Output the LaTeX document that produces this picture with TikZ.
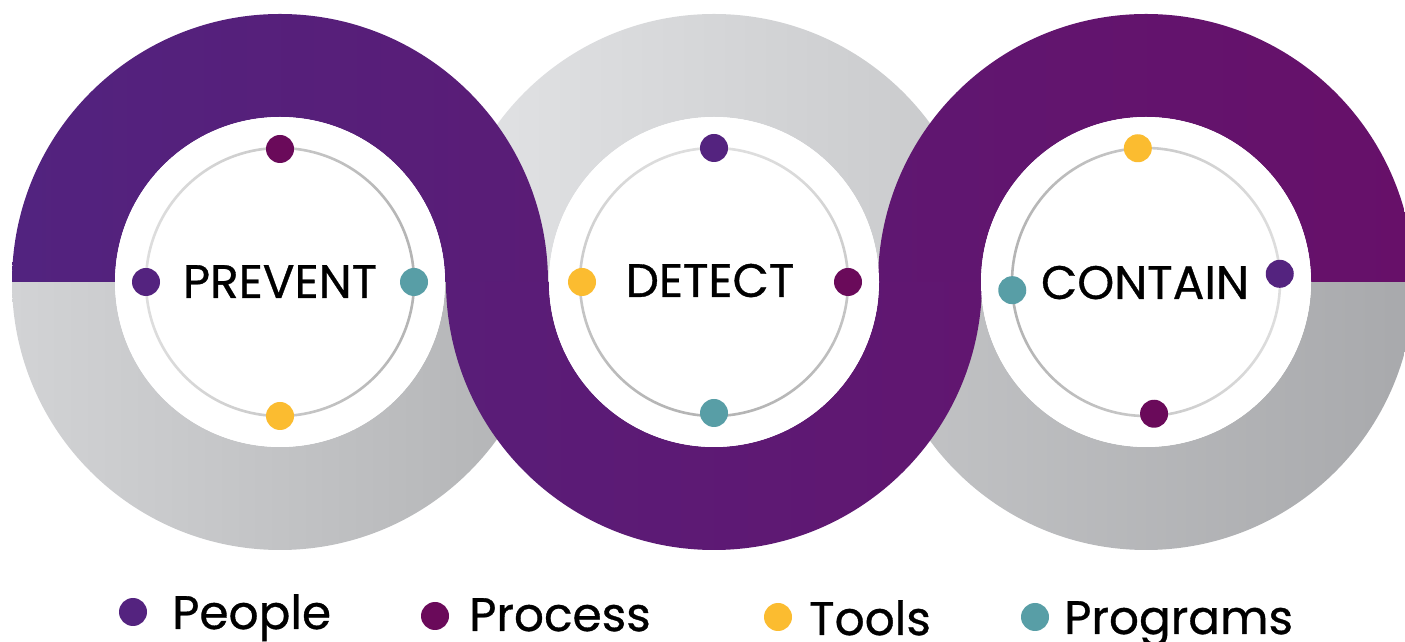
\documentclass[tikz,border=0pt]{standalone}
\usepackage{fontspec}
\setmainfont[FakeBold=0.7,UprightFeatures={FakeBold=0.7}]{Poppins}
\definecolor{people}{HTML}{54237F}
\definecolor{process}{HTML}{6A0A5A}
\definecolor{tools}{HTML}{FBBC30}
\definecolor{programs}{HTML}{589EA6}
\definecolor{pA}{RGB}{82,35,127}
\definecolor{pB}{RGB}{90,28,118}
\definecolor{pC}{RGB}{89,29,120}
\definecolor{pD}{RGB}{97,22,112}
\definecolor{pE}{RGB}{95,23,113}
\definecolor{pF}{RGB}{103,16,105}
\definecolor{gA}{HTML}{D2D3D5}
\definecolor{gB}{HTML}{B2B3B5}
\definecolor{gC}{HTML}{E2E3E5}
\definecolor{gD}{HTML}{C8C9CB}
\definecolor{gE}{HTML}{C3C4C6}
\definecolor{gF}{HTML}{A8A9AC}
\definecolor{thinL}{HTML}{DEDEDE}
\definecolor{thinD}{HTML}{B4B4B4}
\tikzset{
  dot/.style={circle, inner sep=0pt, minimum size=28pt},
  ringlabel/.style={anchor=base, inner sep=0pt, text=black, font=\fontsize{47}{50}\selectfont},
  legendtext/.style={anchor=base west, inner sep=0pt, text=black, font=\fontsize{47}{50}\selectfont},
}
\begin{document}
\begin{tikzpicture}[x=1pt,y=1pt]
\useasboundingbox (0,0) rectangle (1405,642);
% gray halves
\shade[left color=gA, right color=gB] (12,360) arc[start angle=180,end angle=360,radius=268] -- (445,360) arc[start angle=360,end angle=180,radius=165] -- cycle;
\shade[left color=gC, right color=gD] (982,360) arc[start angle=0,end angle=180,radius=268] -- (549,360) arc[start angle=180,end angle=0,radius=165] -- cycle;
\shade[left color=gE, right color=gF] (878,360) arc[start angle=180,end angle=360,radius=268] -- (1311,360) arc[start angle=360,end angle=180,radius=165] -- cycle;
% purple halves
\shade[left color=pA, right color=pB] (548,360) arc[start angle=0,end angle=180,radius=268] -- (115,360) arc[start angle=180,end angle=0,radius=165] -- cycle;
\shade[left color=pC, right color=pD] (446,360) arc[start angle=180,end angle=360,radius=268] -- (879,360) arc[start angle=360,end angle=180,radius=165] -- cycle;
\shade[left color=pE, right color=pF] (1414,360) arc[start angle=0,end angle=180,radius=268] -- (981,360) arc[start angle=180,end angle=0,radius=165] -- cycle;
% white centres
\fill[white] (280,360) circle[radius=165];
\fill[white] (714,360) circle[radius=165];
\fill[white] (1146,360) circle[radius=165];
% thin circles
\shade[even odd rule, left color=thinL, right color=thinD] (280,360) circle[radius=135.3] (280,360) circle[radius=132.7];
\shade[even odd rule, top color=thinL, bottom color=thinD] (714,360) circle[radius=135.3] (714,360) circle[radius=132.7];
\shade[even odd rule, left color=thinD, right color=thinL] (1146,360) circle[radius=135.3] (1146,360) circle[radius=132.7];
% left ring
\begin{scope}[shift={(280,360)}]
  \node[dot, fill=process]  (l-process)  at (90:133) {};
  \node[dot, fill=people]   (l-people)   at (180:134) {};
  \node[dot, fill=programs] (l-programs) at (0:134) {};
  \node[dot, fill=tools]    (l-tools)    at (270:134) {};
\end{scope}
\node[ringlabel] (prevent) at (280,344) {PREVENT};
% middle ring
\begin{scope}[shift={(714,360)}]
  \node[dot, fill=people]   (m-people)   at (90:134) {};
  \node[dot, fill=tools]    (m-tools)    at (180:132) {};
  \node[dot, fill=process]  (m-process)  at (0:134) {};
  \node[dot, fill=programs] (m-programs) at (270:131) {};
\end{scope}
\node[ringlabel] (detect) at (710,345) {DETECT};
% right ring
\begin{scope}[shift={(1146,360)}]
  \node[dot, fill=tools]    (r-tools)    at (93.5:134) {};
  \node[dot, fill=people]   (r-people)   at (3.5:134) {};
  \node[dot, fill=programs] (r-programs) at (183.5:134) {};
  \node[dot, fill=process]  (r-process)  at (273.5:132) {};
\end{scope}
\node[ringlabel] (contain) at (1145,343) {CONTAIN};
% legend
\node[dot, fill=people]   (k-people)   at (133,30) {};
\node[legendtext] (t-people) at (172,13) {People};
\node[dot, fill=process]  (k-process)  at (435,26) {};
\node[legendtext] (t-process) at (469,11) {Process};
\node[dot, fill=tools]    (k-tools)    at (778,25) {};
\node[legendtext] (t-tools) at (809,7) {Tools};
\node[dot, fill=programs] (k-programs) at (1035,25) {};
\node[legendtext] (t-programs) at (1064,8) {Programs};
\end{tikzpicture}
\end{document}
